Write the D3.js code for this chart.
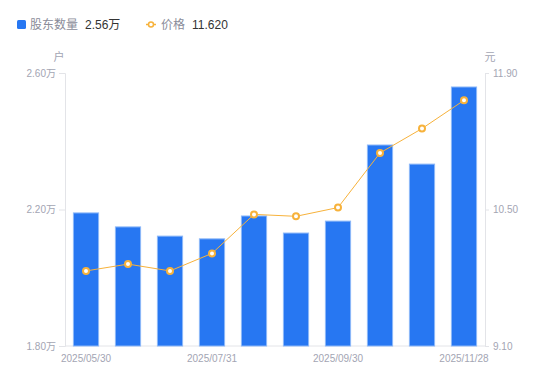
<!DOCTYPE html>
<html>
<head>
<meta charset="utf-8">
<script src="https://cdn.jsdelivr.net/npm/d3@7"></script>
<style>
  body { margin: 0; background: #fff; }
  svg { font-family: "Liberation Sans", "Noto Sans CJK SC", sans-serif; }
</style>
</head>
<body>
<svg id="chart" width="550" height="381"></svg>
<script>
// data
var dates = ['2025/05/30', '2025/06/20', '2025/06/30', '2025/07/31', '2025/08/20',
  '2025/08/31', '2025/09/30', '2025/10/31', '2025/11/10', '2025/11/28']
var holders = [2.19, 2.149, 2.122, 2.114, 2.181, 2.131, 2.166, 2.389, 2.333, 2.559] // 万户
var prices = [9.87, 9.94, 9.87, 10.05, 10.45, 10.43, 10.52, 11.08, 11.33, 11.62]
var leftTicks = [1.8, 2.2, 2.6]
var rightTicks = [9.1, 10.5, 11.9]
var xLabelIdx = [0, 3, 6, 9]

var barColor = '#2777f2'
var lineColor = '#f7b23b'
var axisColor = '#e3e4e8'
var labelColor = '#a3a5b3'

var svg = d3.select('#chart')
var plotLeft = 65, plotRight = 485, plotTop = 73, plotBottom = 346

var x = d3.scaleBand().domain(d3.range(dates.length)).range([plotLeft, plotRight]).paddingInner(0.4).paddingOuter(0.2)
var yL = d3.scaleLinear().domain([1.8, 2.6]).range([plotBottom, plotTop])
var yR = d3.scaleLinear().domain([9.1, 11.9]).range([plotBottom, plotTop])

// left axis
var gL = svg.append('g').attr('transform', 'translate(' + plotLeft + ',0)')
  .call(d3.axisLeft(yL).tickValues(leftTicks).tickSize(6).tickPadding(3)
    .tickFormat(function (d) { return d.toFixed(2) + '万' }))
// right axis
var gR = svg.append('g').attr('transform', 'translate(' + plotRight + ',0)')
  .call(d3.axisRight(yR).tickValues(rightTicks).tickSize(4).tickPadding(4)
    .tickFormat(function (d) { return d.toFixed(2) }))

;[gL, gR].forEach(function (g) {
  g.select('.domain').attr('stroke', axisColor)
  g.selectAll('.tick line').attr('stroke', axisColor)
  g.selectAll('.tick text').attr('fill', labelColor).style('font-size', '10px')
    .style('font-family', '"Liberation Sans", "Noto Sans CJK SC", sans-serif')
})

// bottom line
svg.append('line').attr('x1', plotLeft).attr('x2', plotRight).attr('y1', plotBottom).attr('y2', plotBottom)
  .attr('stroke', axisColor)

// x labels
svg.append('g').selectAll('text').data(xLabelIdx).enter().append('text')
  .attr('x', function (i) { return x(i) + x.bandwidth() / 2 })
  .attr('y', 362)
  .attr('text-anchor', 'middle')
  .attr('fill', labelColor)
  .style('font-size', '10px')
  .text(function (i) { return dates[i] })

// units
svg.append('text').attr('x', 59).attr('y', 61).attr('text-anchor', 'middle')
  .attr('fill', labelColor).style('font-size', '11px').text('户')
svg.append('text').attr('x', 490).attr('y', 61).attr('text-anchor', 'middle')
  .attr('fill', labelColor).style('font-size', '11px').text('元')

// bars
svg.append('g').selectAll('rect').data(holders).enter().append('rect')
  .attr('x', function (d, i) { return x(i) })
  .attr('width', x.bandwidth())
  .attr('y', function (d) { return yL(d) })
  .attr('height', function (d) { return plotBottom - yL(d) })
  .attr('fill', barColor)
  .attr('stroke', '#8db8f8')
  .attr('stroke-width', 1)

// price line
var line = d3.line()
  .x(function (d, i) { return x(i) + x.bandwidth() / 2 })
  .y(function (d) { return yR(d) })
svg.append('path').datum(prices).attr('d', line)
  .attr('fill', 'none').attr('stroke', lineColor).attr('stroke-width', 1)

svg.append('g').selectAll('circle').data(prices).enter().append('circle')
  .attr('cx', function (d, i) { return x(i) + x.bandwidth() / 2 })
  .attr('cy', function (d) { return yR(d) })
  .attr('r', 3)
  .attr('fill', '#fff')
  .attr('stroke', lineColor)
  .attr('stroke-width', 2)

// legend
var lg = svg.append('g')
lg.append('rect').attr('x', 17).attr('y', 20).attr('width', 9).attr('height', 9).attr('rx', 1.5).attr('fill', barColor)
lg.append('text').attr('x', 30).attr('y', 29).attr('fill', '#8a8c99').style('font-size', '12px').text('股东数量')
lg.append('text').attr('x', 85).attr('y', 29).attr('fill', '#333').style('font-size', '12px').text(holders[holders.length - 1].toFixed(2) + '万')
lg.append('line').attr('x1', 146).attr('x2', 156).attr('y1', 24.5).attr('y2', 24.5).attr('stroke', lineColor).attr('stroke-width', 1.5)
lg.append('circle').attr('cx', 151).attr('cy', 24.5).attr('r', 2.5).attr('fill', '#fff').attr('stroke', lineColor).attr('stroke-width', 1.5)
lg.append('text').attr('x', 161).attr('y', 29).attr('fill', '#8a8c99').style('font-size', '12px').text('价格')
lg.append('text').attr('x', 192).attr('y', 29).attr('fill', '#333').style('font-size', '12px').text(prices[prices.length - 1].toFixed(3))
</script>
</body>
</html>
